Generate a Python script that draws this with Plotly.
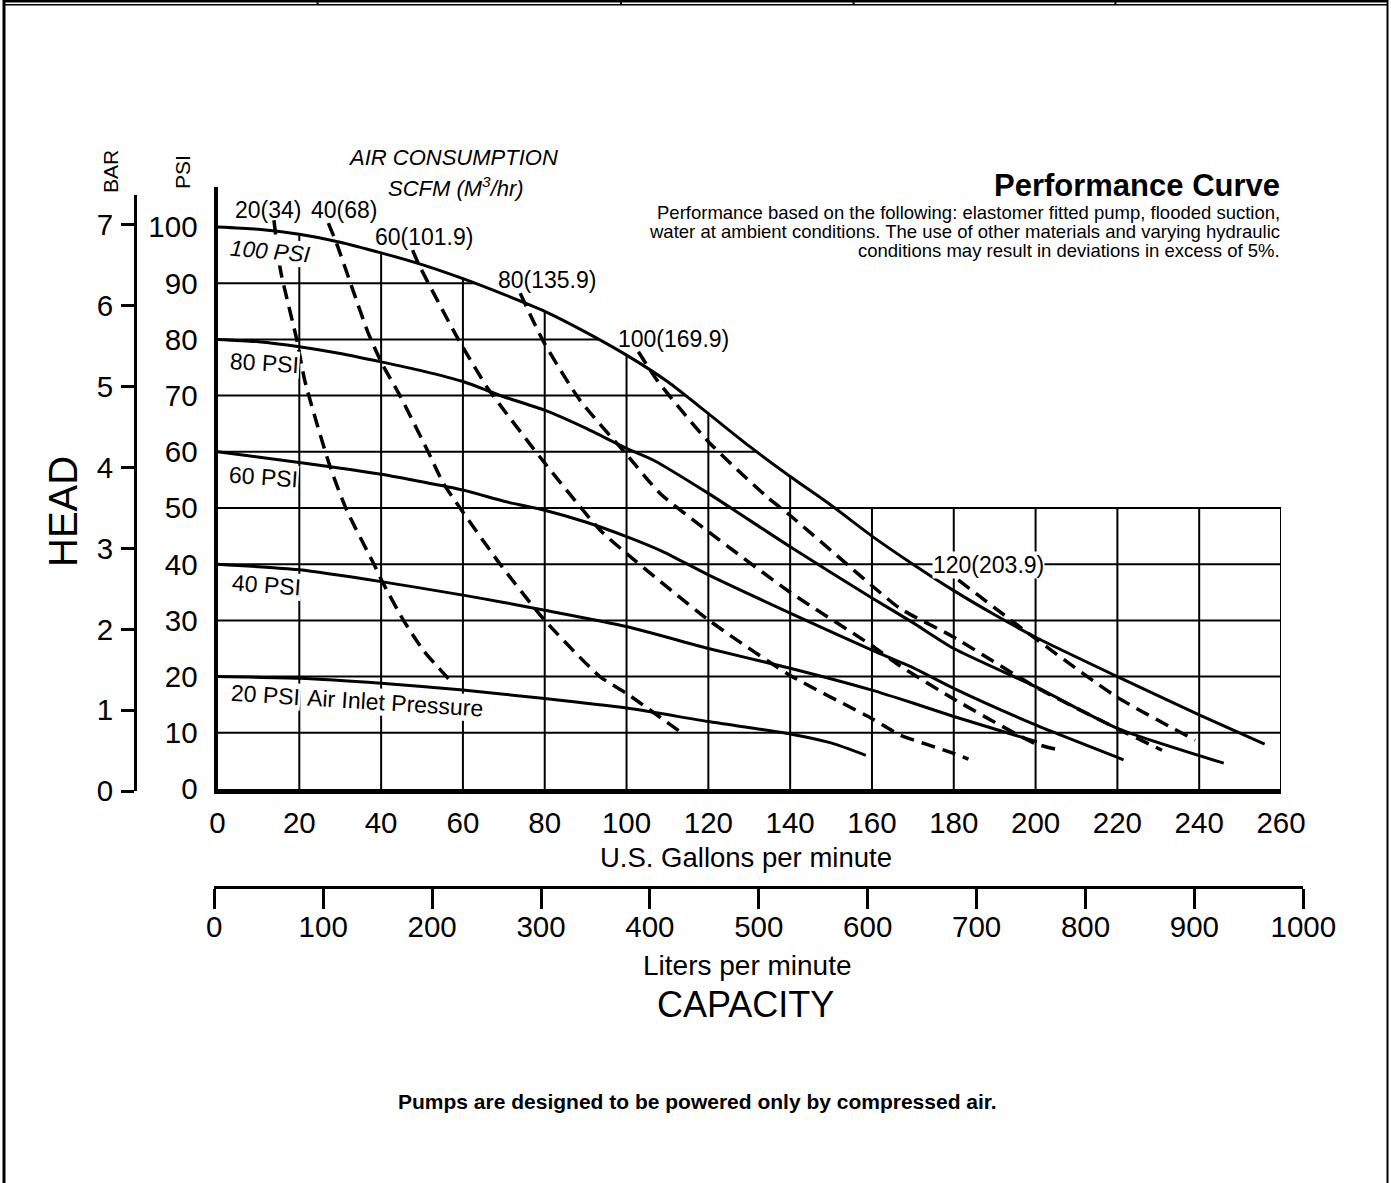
import numpy as np
import plotly.graph_objects as go

W, H = 1391, 1183
FONT = "Liberation Sans, Arial, Helvetica, sans-serif"

# ---------------- data ----------------
GPM_TICKS = list(range(0, 261, 20))
LPM_TICKS = list(range(0, 1001, 100))
PSI_TICKS = list(range(0, 101, 10))
BAR_TICKS = list(range(0, 8))

# Air inlet pressure curves: capacity (US GPM) vs head (PSI)
P100_GPM = [0, 10, 20, 30, 40, 50, 60, 70, 80, 90, 100, 110, 120, 130, 140, 150, 160, 170, 180, 190, 200, 220, 240, 256]
P100_PSI = [100, 99.6, 98.7, 97.3, 95.4, 93.3, 90.8, 88.0, 85.0, 81.3, 77.2, 72.5, 66.8, 61.0, 55.6, 50.5, 45.0, 40.0, 35.3, 31.0, 27.0, 20.0, 13.2, 8.0]

P80_GPM = [0, 10, 20, 30, 40, 50, 60, 70, 80, 90, 100, 106.6, 120, 140, 160, 170, 180, 200, 220, 246]
P80_PSI = [80, 79.6, 78.7, 77.5, 76.0, 74.4, 72.5, 69.8, 67.4, 64.2, 60.6, 58.5, 52.6, 43.1, 34.0, 29.6, 25.0, 18.2, 10.8, 4.6]

P60_GPM = [0, 20, 40, 60, 70, 80, 90, 100, 109, 120, 140, 160, 170, 180, 200, 221.5]
P60_PSI = [60, 58.1, 56.0, 53.2, 51.2, 49.6, 47.5, 44.9, 42.2, 38.1, 31.3, 24.7, 21.6, 17.9, 11.4, 5.2]

P40_GPM = [0, 20, 40, 60, 70, 80, 100, 120, 140, 160, 170, 180, 200.3]
P40_PSI = [40, 39.0, 36.9, 34.5, 33.2, 31.8, 28.9, 25.0, 21.5, 17.6, 15.3, 12.9, 8.4]

P20_GPM = [0, 20, 40, 60, 80, 100, 120, 140, 150, 158.5]
P20_PSI = [20, 19.7, 18.8, 17.6, 16.1, 14.4, 12.0, 9.8, 8.2, 6.0]

# Air consumption lines: SCFM (M3/hr)
A20_GPM = [13.8, 15.4, 19.3, 21.4, 27.5, 31.6, 38.1, 40.5, 45.4, 50.3, 57.5]
A20_PSI = [101.2, 92.3, 80.2, 72.5, 57.4, 49.6, 40.2, 36.6, 30.1, 24.7, 18.8]

A40_GPM = [27.1, 29.1, 33.0, 36.7, 40.0, 44.6, 51.5, 55.2, 59.3, 69.1, 79.9, 93.5, 100.0, 113.1]
A40_PSI = [100.7, 97.1, 89.0, 81.4, 76.0, 70.0, 60.0, 54.4, 50.0, 40.0, 30.1, 20.0, 17.0, 10.2]

A60_GPM = [47.7, 49.1, 58.5, 65.8, 69.1, 80.0, 93.5, 100.0, 120.0, 139.8, 159.8, 166.9, 179.8, 183.6]
A60_PSI = [95.9, 93.5, 80.5, 71.6, 68.3, 58.0, 46.1, 41.9, 30.1, 20.3, 12.6, 9.6, 6.4, 5.3]

A80_GPM = [74.0, 79.7, 88.6, 99.8, 108.2, 120.0, 139.8, 159.8, 166.9, 179.8, 199.9, 206.0]
A80_PSI = [88.2, 79.6, 69.2, 59.7, 52.6, 45.8, 35.1, 25.6, 21.9, 16.1, 8.1, 6.9]

A100_GPM = [102.9, 107.4, 120.0, 134.3, 139.8, 159.8, 166.9, 179.8, 199.9, 219.8, 230.9]
A100_PSI = [77.8, 72.8, 61.8, 52.0, 48.8, 36.3, 32.1, 27.1, 18.2, 10.8, 6.9]

A120_GPM = [181.1, 199.9, 219.8, 239.0]
A120_PSI = [37.2, 26.8, 16.4, 8.7]

SOLID = [(P100_GPM, P100_PSI), (P80_GPM, P80_PSI), (P60_GPM, P60_PSI),
         (P40_GPM, P40_PSI), (P20_GPM, P20_PSI)]
DASHED = [(A20_GPM, A20_PSI), (A40_GPM, A40_PSI), (A60_GPM, A60_PSI),
          (A80_GPM, A80_PSI), (A100_GPM, A100_PSI), (A120_GPM, A120_PSI)]

# ---------------- helpers (pixel -> paper) ----------------
def PX(px):
    return px / W

def PY(py):
    return 1 - py / H

PSI_PX = 5.62      # pixels per psi
BAR_PX = 80.86     # pixels per bar

fig = go.Figure()

# ---- grid, clipped under the 100 PSI envelope (or 50 PSI box) ----
def top_env(x):
    return max(float(np.interp(x, P100_GPM, P100_PSI)), 50.0)

gx, gy = [], []
for v in GPM_TICKS[1:]:
    gx += [v, v, None]
    gy += [0, top_env(v), None]
for h in PSI_TICKS[1:-1]:
    if h <= 50:
        xe = GPM_TICKS[-1]
    else:
        xe = float(np.interp(h, P100_PSI[::-1], P100_GPM[::-1]))
    gx += [0, xe, None]
    gy += [h, h, None]
fig.add_trace(go.Scatter(x=gx, y=gy, mode="lines", line=dict(color="black", width=2),
                         hoverinfo="skip", xaxis="x", yaxis="y"))

for xs, ys in SOLID:
    fig.add_trace(go.Scatter(x=xs, y=ys, mode="lines",
                             line=dict(color="black", width=3, shape="spline", smoothing=0.6),
                             hoverinfo="skip", xaxis="x", yaxis="y"))
for xs, ys in DASHED:
    fig.add_trace(go.Scatter(x=xs, y=ys, mode="lines",
                             line=dict(color="black", width=3.5, dash="14px,8px",
                                       shape="spline", smoothing=0.6),
                             hoverinfo="skip", xaxis="x", yaxis="y"))

# dummy traces to instantiate the BAR and Liters axes
fig.add_trace(go.Scatter(x=[None], y=[None], mode="lines", xaxis="x", yaxis="y2", hoverinfo="skip"))
fig.add_trace(go.Scatter(x=[None], y=[None], mode="lines", xaxis="x2", yaxis="y3", hoverinfo="skip"))

tickfont = dict(family=FONT, size=29.5, color="black")

fig.update_layout(
    width=W, height=H,
    margin=dict(l=0, r=0, t=0, b=0, pad=0),
    paper_bgcolor="white", plot_bgcolor="rgba(0,0,0,0)",
    showlegend=False,
    font=dict(family=FONT, color="black"),
    xaxis=dict(domain=[PX(217.5), PX(1281)], range=[0, 260], tickvals=GPM_TICKS,
               showgrid=False, zeroline=False, showline=True, linewidth=5, linecolor="black",
               ticks="outside", ticklen=4, tickcolor="rgba(0,0,0,0)", tickfont=tickfont,
               anchor="y", automargin=False, fixedrange=True),
    yaxis=dict(domain=[PY(789), PY(187)], range=[0, (789 - 187) / PSI_PX], tickvals=PSI_TICKS,
               showgrid=False, zeroline=False, showline=True, linewidth=4, linecolor="black",
               ticks="outside", ticklen=10, tickcolor="rgba(0,0,0,0)", tickfont=tickfont,
               anchor="x", automargin=False, fixedrange=True),
    yaxis2=dict(domain=[PY(791), PY(195)], range=[0, (791 - 195) / BAR_PX], tickvals=BAR_TICKS,
                anchor="free", position=PX(135), side="left",
                showgrid=False, zeroline=False, showline=True, linewidth=3, linecolor="black",
                ticks="outside", ticklen=13, tickwidth=3, tickcolor="black", tickfont=tickfont,
                ticklabelstandoff=2, automargin=False, fixedrange=True),
    xaxis2=dict(domain=[PX(214.3), PX(1303.3)], range=[0, 1000], tickvals=LPM_TICKS,
                anchor="y3", showgrid=False, zeroline=False, showline=True, linewidth=3,
                linecolor="black", ticks="outside", ticklen=20, tickwidth=3, tickcolor="black",
                tickfont=tickfont, ticklabelstandoff=-7, automargin=False, fixedrange=True),
    yaxis3=dict(domain=[PY(886), PY(876)], range=[0, 1], visible=False, anchor="x2",
                fixedrange=True),
)

ann = []

def add_text(text, x, y, size, angle=0, xanchor="center", bg=None, align="center"):
    d = dict(text=text, x=PX(x), y=PY(y), xref="paper", yref="paper", showarrow=False,
             xanchor=xanchor, yanchor="middle", textangle=angle, align=align,
             font=dict(family=FONT, size=size, color="black"), borderpad=0)
    if bg:
        d["bgcolor"] = bg
    ann.append(d)

add_text("<i>AIR CONSUMPTION</i>", 453, 158, 22)
add_text("<i>SCFM (M<sup>3</sup>/hr)</i>", 456, 187, 22)
add_text("20(34)", 268, 210, 23)
add_text("40(68)", 344, 210, 23)
add_text("60(101.9)", 424, 237, 23)
add_text("80(135.9)", 547, 280, 23)
add_text("100(169.9)", 673, 339, 23)
add_text("120(203.9)", 988, 565, 23, bg="white")
add_text("<i>100 PSI</i>", 270, 251, 22.5, angle=5, bg="white")
add_text("80 PSI", 264, 363, 23, angle=3.5, bg="white")
add_text("60 PSI", 263, 477, 23, angle=4, bg="white")
add_text("40 PSI", 266, 585, 23, angle=4, bg="white")
add_text("20 PSI", 265.5, 695, 23, angle=3.6, bg="white")
add_text("Air Inlet Pressure", 394.6, 703, 23, angle=3.6, bg="white")
add_text("BAR", 110, 172, 21, angle=-90)
add_text("PSI", 182, 172, 21, angle=-90)
add_text("HEAD", 63, 512, 40, angle=-90)
add_text("U.S. Gallons per minute", 746, 857, 27.5)
add_text("Liters per minute", 747, 965, 28)
add_text("CAPACITY", 745, 1005, 36)
add_text("<b>Performance Curve</b>", 1281, 186, 31, xanchor="right")
add_text("Performance based on the following: elastomer fitted pump, flooded suction,",
         1281, 212, 18.5, xanchor="right", align="right")
add_text("water at ambient conditions. The use of other materials and varying hydraulic",
         1281, 231, 18.5, xanchor="right", align="right")
add_text("conditions may result in deviations in excess of 5%.",
         1281, 250, 18.5, xanchor="right", align="right")
add_text("<b>Pumps are designed to be powered only by compressed air.</b>", 697, 1101, 21)

fig.update_layout(annotations=ann)

# page frame
shapes = []
def pline(x0, y0, x1, y1, w):
    shapes.append(dict(type="line", xref="paper", yref="paper", x0=PX(x0), y0=PY(y0),
                       x1=PX(x1), y1=PY(y1), line=dict(color="black", width=w)))

pline(4, 0, 4, H, 3)
pline(1387.5, 0, 1387.5, H, 2)
pline(4, 1.2, 1388, 1.2, 2.5)
pline(4, 4.8, 1388, 4.8, 1.5)
for xd in [317.6, 621, 853.6, 1115.4]:
    pline(xd, 0, xd, 5, 2)
fig.update_layout(shapes=shapes)

fig.write_html("out.html", config={"displayModeBar": False},
               post_script="document.body.style.margin='0px';document.body.style.overflow='hidden';")
